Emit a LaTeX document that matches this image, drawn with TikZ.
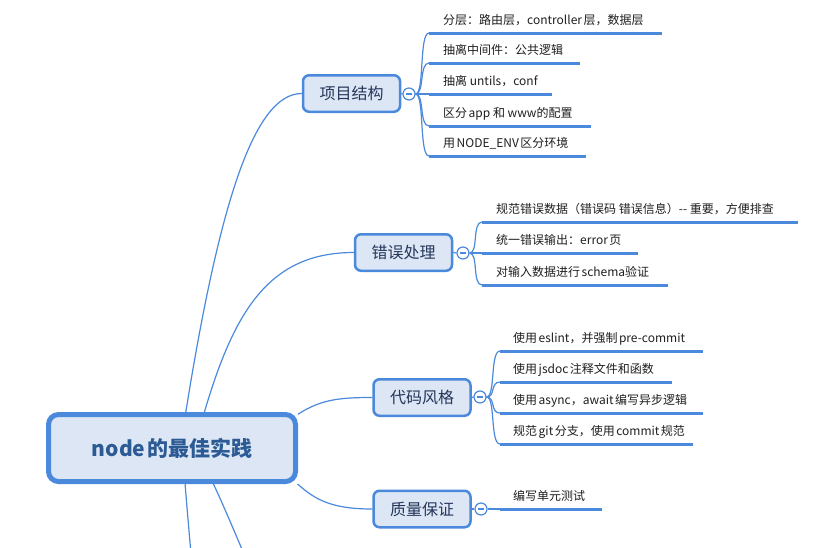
\documentclass[tikz,border=0pt]{standalone}
\usepackage{fontspec}
\setmainfont{Noto Sans CJK SC}
\definecolor{mmblue}{HTML}{4A89DC}
\definecolor{mmfill}{HTML}{DCE6F4}
\definecolor{mmtext}{HTML}{24365A}
\definecolor{roottext}{HTML}{2C5A94}
\definecolor{leaftext}{HTML}{1E1E1E}
\newcommand{\gp}{\hspace{1.5pt}}
\tikzset{
  rootbox/.style={draw=mmblue, line width=5pt, fill=mmfill, rounded corners=10pt,
    minimum width=247pt, minimum height=67pt, inner sep=0pt,
    font=\fontsize{21}{25}\selectfont\bfseries, text=roottext},
  topicbox/.style={draw=mmblue, line width=2.5pt, fill=mmfill, rounded corners=6pt,
    minimum width=97pt, minimum height=36.5pt, inner sep=0pt,
    font=\fontsize{16}{19}\selectfont, text=mmtext},
  collapse/.style={circle, draw=mmblue, fill=white, line width=1.2pt,
    minimum size=12pt, inner sep=0pt,
    path picture={\draw[mmblue, line width=1.1pt]
      ([xshift=-3pt]path picture bounding box.center) --
      ([xshift=3pt]path picture bounding box.center);}},
  leaf/.style={anchor=west, inner sep=0pt, font=\fontsize{12}{14}\selectfont,
    text=leaftext, text height=0.88em, text depth=0.12em},
  link/.style={draw=mmblue, line width=1.2pt},
  uline/.style={draw=mmblue, line width=3pt},
}
\begin{document}
\begin{tikzpicture}[x=1pt,y=-1pt]
\useasboundingbox (0,0) rectangle (836,547);
\clip (0,0) rectangle (836,547);

% root
\node[rootbox] (root) at (172,448) {node\gp 的最佳实践};

% topics
\node[topicbox] (t1) at (351.5,93.5) {项目结构};
\node[topicbox] (t2) at (403.5,252.5) {错误处理};
\node[topicbox] (t3) at (422,397.5) {代码风格};
\node[topicbox] (t4) at (422,509) {质量保证};

% off-picture branch ends
\coordinate (off1) at (195,620);
\coordinate (off2) at (265,605);

% root connectors
\draw[link] (root.69) .. controls +(34,-212) and +(-47,0) .. (t1.west);
\draw[link] (root.48) .. controls +(30,-102) and +(-84,0) .. (t2.west);
\draw[link] (root.15) .. controls +(23,-15) and +(-32,0) .. (t3.west);
\draw[link] (root.-16) .. controls +(17,15) and +(-42,0) .. (t4.west);
\draw[link] (root.-70) .. controls +(3,40) and +(-1,-40) .. (off1);
\draw[link] (root.-41) .. controls +(12,25) and +(-10,-25) .. (off2);

% collapse markers
\node[collapse] (c1) at (409,94) {};
\node[collapse] (c2) at (463,253) {};
\node[collapse] (c3) at (480,397) {};
\node[collapse] (c4) at (481,509) {};
\draw[link] (t1.east) -- (c1.west);
\draw[link] (t2.east) -- (c2.west);
\draw[link] (t3.east) -- (c3.west);
\draw[link] (t4.east) -- (c4.west);

% ---- group 1: 项目结构
\coordinate (a1s) at (429,33);  \coordinate (a1e) at (662,33);
\coordinate (a2s) at (429,63);  \coordinate (a2e) at (580,63);
\coordinate (a3s) at (429,94);  \coordinate (a3e) at (552,94);
\coordinate (a4s) at (429,126); \coordinate (a4e) at (591,126);
\coordinate (a5s) at (429,156); \coordinate (a5e) at (586,156);
\node[leaf] (a1) at (443,21)  {分层：路由层，controller\gp 层，数据层};
\node[leaf] (a2) at (443,51)  {抽离中间件：公共逻辑};
\node[leaf] (a3) at (443,82)  {抽离 untils，conf};
\node[leaf] (a4) at (443,114) {区分\gp app 和 www的配置};
\node[leaf] (a5) at (443,144) {用\gp NODE\_ENV\gp 区分环境};
\foreach \n in {a1,a2,a3,a4,a5} {
  \draw[link] (c1.east) .. controls +(9,0) and +(-10,0) .. (\n s);
  \draw[uline] (\n s) -- (\n e);
}

% ---- group 2: 错误处理
\coordinate (b1s) at (482,222); \coordinate (b1e) at (798,222);
\coordinate (b2s) at (482,253); \coordinate (b2e) at (638,253);
\coordinate (b3s) at (482,285); \coordinate (b3e) at (668,285);
\node[leaf] (b1) at (496,210) {规范错误数据（错误码 错误信息）-{}- 重要，方便排查};
\node[leaf] (b2) at (496,241) {统一错误输出：error\gp 页};
\node[leaf] (b3) at (496,273) {对输入数据进行\gp schema验证};
\foreach \n in {b1,b2,b3} {
  \draw[link] (c2.east) .. controls +(9,0) and +(-10,0) .. (\n s);
  \draw[uline] (\n s) -- (\n e);
}

% ---- group 3: 代码风格
\coordinate (d1s) at (500,351); \coordinate (d1e) at (703,351);
\coordinate (d2s) at (500,382); \coordinate (d2e) at (672,382);
\coordinate (d3s) at (500,413); \coordinate (d3e) at (703,413);
\coordinate (d4s) at (500,444); \coordinate (d4e) at (693,444);
\node[leaf] (d1) at (513,339) {使用\gp eslint，并强制\gp pre-commit};
\node[leaf] (d2) at (513,370) {使用\gp jsdoc\gp 注释文件和函数};
\node[leaf] (d3) at (513,401) {使用\gp async，await\gp 编写异步逻辑};
\node[leaf] (d4) at (513,432) {规范\gp git\gp 分支，使用\gp commit\gp 规范};
\foreach \n in {d1,d2,d3,d4} {
  \draw[link] (c3.east) .. controls +(9,0) and +(-10,0) .. (\n s);
  \draw[uline] (\n s) -- (\n e);
}

% ---- group 4: 质量保证
\coordinate (e1s) at (500,509); \coordinate (e1e) at (602,509);
\node[leaf] (e1) at (513,497) {编写单元测试};
\draw[link] (c4.east) -- (e1s);
\draw[uline] (e1s) -- (e1e);
\end{tikzpicture}
\end{document}
